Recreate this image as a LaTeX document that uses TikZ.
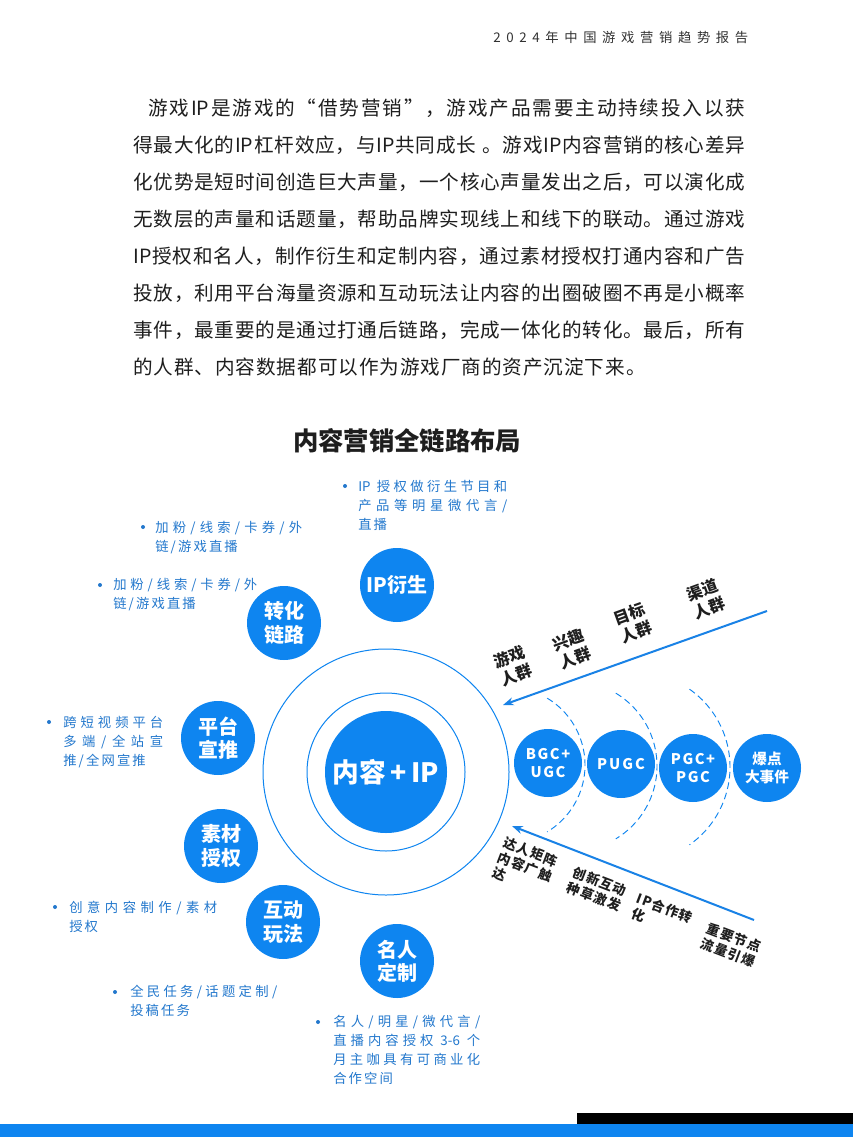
\documentclass[tikz,border=0pt]{standalone}
\usepackage{fontspec}
\setmainfont{Noto Sans CJK SC}
\usetikzlibrary{arrows.meta}
\definecolor{mblue}{RGB}{14,133,240}
\definecolor{tblue}{RGB}{35,120,205}
\definecolor{abl}{RGB}{25,130,230}
\definecolor{dk}{RGB}{30,30,30}
\definecolor{hd}{RGB}{50,50,50}
\makeatletter
\newcommand\jline[2]{\hbox to #1{\@tfor\@jc:=#2\do{\@jc\hfil}\unskip}}
\newcommand\gline[2]{\hbox{\@tfor\@jc:=#2\do{\@jc\hskip#1}\unskip}}
\makeatother
\begin{document}
\begin{tikzpicture}[x=0.75pt,y=-0.75pt,
  bub/.style={circle,fill=mblue,minimum size=55.5pt,inner sep=0pt,text=white,align=center,font=\bfseries\fontsize{15}{17.5}\selectfont},
  sbub/.style={circle,fill=mblue,minimum size=51pt,inner sep=0pt,text=white,align=center,font=\bfseries\fontsize{11}{14}\selectfont},
  ringline/.style={draw=mblue,line width=0.75pt},
  notetext/.style={anchor=north west,inner sep=0pt,align=left,text=tblue,font=\fontsize{10}{14.25}\selectfont},
  bdot/.style={circle,fill=tblue,inner sep=0pt,minimum size=3pt},
  paraline/.style={anchor=west,inner sep=0pt,text=dk,font=\fontsize{14.7}{17}\selectfont},
  ulab/.style={rotate=20,align=center,inner sep=0pt,text=dk,font=\bfseries\fontsize{12}{14.5}\selectfont},
  llab/.style={rotate=-21,align=left,inner sep=0pt,text=dk,font=\bfseries\fontsize{10}{12}\selectfont},
  arrowline/.style={draw=abl,line width=1.5pt,-{Stealth[length=8pt,width=6pt]}},
  darc/.style={draw=mblue,line width=0.7pt,dash pattern=on 5pt off 3pt}]
\useasboundingbox (0,0) rectangle (853,1137);
\fill[white] (0,0) rectangle (853,1137);

% header
\node[anchor=west,inner sep=0pt,text=hd,font=\fontsize{10}{12}\selectfont] (head) at (493,37) {\jline{191.25pt}{2024年中国游戏营销趋势报告}};

% paragraph
\node[paraline] (p1) at (148,108) {\jline{447.75pt}{游戏{IP}是游戏的“借势营销”，游戏产品需要主动持续投入以获}};
\node[paraline] (p2) at (133,145) {\jline{459pt}{得最大化的{IP}杠杆效应，与{IP}共同成长{ }。游戏{IP}内容营销的核心差异}};
\node[paraline] (p3) at (133,182) {\jline{459pt}{化优势是短时间创造巨大声量，一个核心声量发出之后，可以演化成}};
\node[paraline] (p4) at (133,219) {\jline{459pt}{无数层的声量和话题量，帮助品牌实现线上和线下的联动。通过游戏}};
\node[paraline] (p5) at (133,256) {\jline{459pt}{{IP}授权和名人，制作衍生和定制内容，通过素材授权打通内容和广告}};
\node[paraline] (p6) at (133,293) {\jline{459pt}{投放，利用平台海量资源和互动玩法让内容的出圈破圈不再是小概率}};
\node[paraline] (p7) at (133,330) {\jline{459pt}{事件，最重要的是通过打通后链路，完成一体化的转化。最后，所有}};
\node[paraline] (p8) at (133,367) {\gline{0.7pt}{的人群、内容数据都可以作为游戏厂商的资产沉淀下来。}};

% title
\node[text=dk,font=\bfseries\fontsize{19}{22}\selectfont] (title) at (407,441) {内容营销全链路布局};

% rings and center
\coordinate (cen) at (386,772);
\draw[ringline] (cen) circle[radius=123];
\draw[ringline] (cen) circle[radius=79];
\node[circle,fill=mblue,minimum size=91.5pt,inner sep=0pt,text=white,font=\bfseries\fontsize{20}{22}\selectfont] (core) at (cen) {内容\,+\,IP};

% bubbles
\node[bub] (ipys) at (397,585) {IP衍生};
\node[bub] (zhlj) at (284,623) {转化\\链路};
\node[bub] (ptxt) at (218,738) {平台\\宣推};
\node[bub] (scsq) at (221,846) {素材\\授权};
\node[bub] (hdwf) at (283,922) {互动\\玩法};
\node[bub] (mrdz) at (397,961) {名人\\定制};

% notes
\node[bdot] (d1) at (345,486) {};
\node[notetext] (n1) at (358,480) {\jline{111.75pt}{{IP }授权做衍生节目和}\\\jline{111.75pt}{产品等明星微代言/}\\\gline{1.6pt}{直播}};
\node[bdot] (d2) at (143,527) {};
\node[notetext] (n2) at (155,521) {\jline{110.25pt}{加粉/线索/卡券/外}\\\gline{1.6pt}{链/游戏直播}};
\node[bdot] (d3) at (100,585) {};
\node[notetext] (n3) at (113,578) {\jline{108pt}{加粉/线索/卡券/外}\\\gline{1.6pt}{链/游戏直播}};
\node[bdot] (d4) at (49,722) {};
\node[notetext] (n4) at (63,716) {\jline{75pt}{跨短视频平台}\\\jline{75pt}{多端/全站宣}\\\gline{1.6pt}{推/全网宣推}};
\node[bdot] (d5) at (55,907) {};
\node[notetext] (n5) at (69,901) {\jline{111pt}{创意内容制作/素材}\\\gline{1.6pt}{授权}};
\node[bdot] (d6) at (115,992) {};
\node[notetext] (n6) at (130,985) {\jline{110.25pt}{全民任务/话题定制/}\\\gline{1.6pt}{投稿任务}};
\node[bdot] (d7) at (318,1022) {};
\node[notetext] (n7) at (333,1015) {\jline{110.25pt}{名人/明星/微代言/}\\\jline{110.25pt}{直播内容授权{ 3-6 }个}\\\jline{110.25pt}{月主咖具有可商业化}\\\gline{1.6pt}{合作空间}};

% dashed arcs
\coordinate (ac1) at (507,765);
\coordinate (ac2) at (572,766);
\coordinate (ac3) at (635,767);
\draw[darc] (ac1) ++(-59:78) arc[start angle=-59,end angle=59,radius=78];
\draw[darc] (ac2) ++(-59:85) arc[start angle=-59,end angle=59,radius=85];
\draw[darc] (ac3) ++(-55:95) arc[start angle=-55,end angle=55,radius=95];

% right bubbles
\node[sbub] (bgc) at (548,763) {\gline{1.2pt}{BGC+}\\\gline{1.2pt}{UGC}};
\node[sbub] (pugc) at (621,764) {\gline{1.5pt}{PUGC}};
\node[sbub] (pgc) at (693,768) {\gline{1.2pt}{PGC+}\\\gline{1.2pt}{PGC}};
\node[sbub] (bd) at (767,768) {爆点\\大事件};

% arrows
\coordinate (ua1) at (767,611);
\coordinate (ua2) at (503,705);
\draw[arrowline] (ua1) -- (ua2);
\coordinate (la1) at (754,920);
\coordinate (la2) at (512,826);
\draw[arrowline] (la1) -- (la2);

% upper labels
\node[ulab] (u1) at (513,666) {游戏\\人群};
\node[ulab] (u2) at (572,649) {兴趣\\人群};
\node[ulab] (u3) at (633,623) {目标\\人群};
\node[ulab] (u4) at (706,599) {渠道\\人群};

% lower labels
\node[llab] (l1) at (525,867) {\gline{0.8pt}{达人矩阵}\\\gline{0.8pt}{内容广触}\\达};
\node[llab] (l2) at (597,889) {\gline{0.8pt}{创新互动}\\\gline{0.8pt}{种草激发}};
\node[llab] (l3) at (662,916) {\gline{0.8pt}{IP合作转}\\化};
\node[llab] (l4) at (731,945) {\gline{0.8pt}{重要节点}\\\gline{0.8pt}{流量引爆}};

% bottom bars
\fill[black] (577,1113) rectangle (853,1124);
\fill[mblue] (0,1124) rectangle (853,1137);
\end{tikzpicture}
\end{document}
